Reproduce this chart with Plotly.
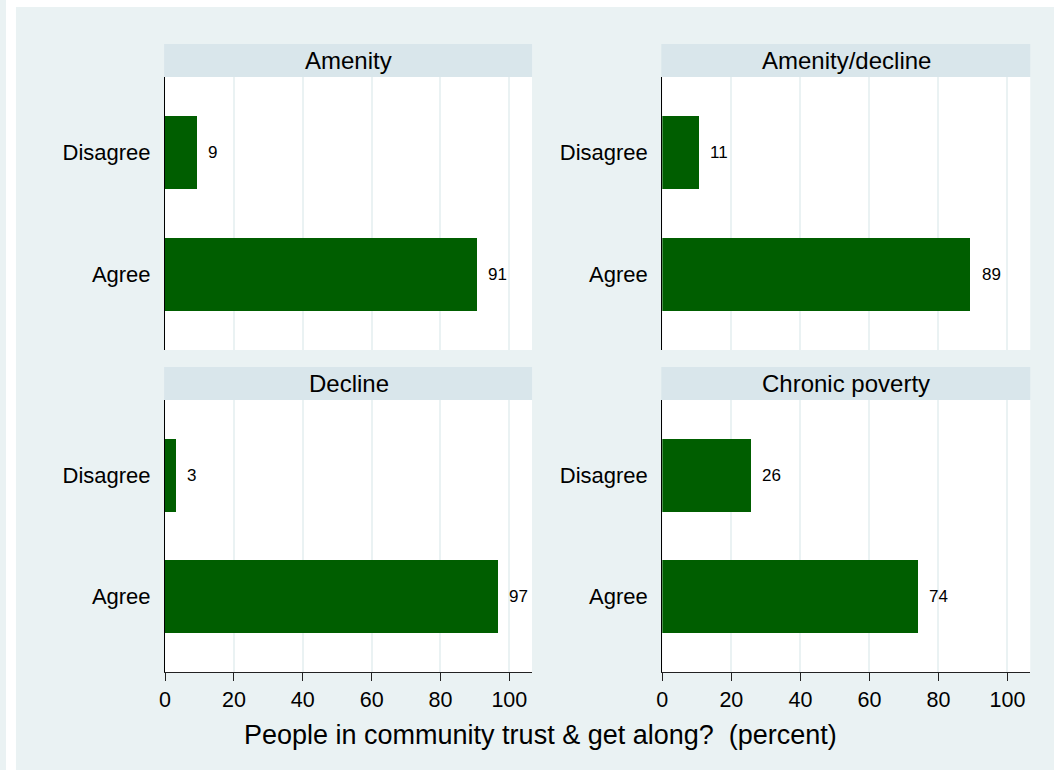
import plotly.graph_objects as go

# panel names and percentages
panels = ["Amenity", "Amenity/decline", "Decline", "Chronic poverty"]
categories = ["Agree", "Disagree"]
agree = [90.6, 89.3, 96.8, 74.2]
disagree = [9.4, 10.7, 3.2, 25.8]
x_ticks = [0, 20, 40, 60, 80, 100]
x_title = "People in community trust & get along?  (percent)"

# figure runs a little past the page edges so the background reaches them
W, H = 1054 + 20, 770 + 20
BG = "#eaf2f3"
STRIP = "#d9e6eb"
BAR = "#005e00"
FONT = "Liberation Sans, Arial, sans-serif"


def px_x(x):
    return x / W


def px_y(y):
    return 1 - y / H


# page-pixel boxes of the plot regions
col_x = [(160, 529), (660, 1030)]
row_y = [(77, 350), (400, 672)]
strip_h = 33

fig = go.Figure()
layout = {}

for i, name in enumerate(panels):
    r, c = divmod(i, 2)
    xa = "x" if i == 0 else f"x{i + 1}"
    ya = "y" if i == 0 else f"y{i + 1}"
    vals = [agree[i], disagree[i]]

    fig.add_trace(go.Bar(
        x=vals, y=categories, orientation="h", width=0.6,
        marker=dict(color=BAR, line=dict(width=0)),
        xaxis=xa, yaxis=ya, hoverinfo="skip", showlegend=False,
    ))
    for cat, v in zip(categories, vals):
        fig.add_annotation(x=v, y=cat, xref=xa, yref=ya, text=f"{v:.0f}",
                           showarrow=False, xanchor="left", xshift=9,
                           font=dict(size=17, color="black"))

    x0, x1 = col_x[c]
    y0, y1 = row_y[r]
    bottom = r == 1
    layout["xaxis" if i == 0 else f"xaxis{i + 1}"] = dict(
        domain=[px_x(x0), px_x(x1)], anchor=ya, range=[0, 106.6],
        tickvals=x_ticks, showgrid=True, gridcolor=BG, gridwidth=1.5,
        zeroline=False, showline=bottom, linecolor="#222", linewidth=1,
        ticks="outside" if bottom else "", ticklen=8, tickcolor="#222",
        showticklabels=bottom, tickfont=dict(size=21.5, color="black"),
    )
    layout["yaxis" if i == 0 else f"yaxis{i + 1}"] = dict(
        domain=[px_y(y1), px_y(y0)], anchor=xa, range=[-0.62, 1.62],
        type="category", categoryorder="array", categoryarray=categories,
        showgrid=False, zeroline=False, showline=True, linecolor="black",
        linewidth=1.2, ticks="", ticklabelstandoff=9,
        tickfont=dict(size=22, color="black"),
    )

    # panel header strip
    fig.add_shape(type="rect", xref="paper", yref="paper",
                  x0=px_x(x0 - 1), x1=px_x(x1), y0=px_y(y0), y1=px_y(y0 - strip_h),
                  fillcolor=STRIP, line=dict(width=0), layer="below")
    fig.add_annotation(x=px_x((x0 + x1) / 2), y=px_y(y0 - strip_h / 2),
                       xref="paper", yref="paper", text=name, showarrow=False,
                       xanchor="center", yanchor="middle",
                       font=dict(size=24, color="black"))

# white edges at top and left of the graph region
fig.add_shape(type="rect", xref="paper", yref="paper", x0=0, x1=px_x(10), y0=0, y1=1,
              fillcolor="white", line=dict(width=0), layer="below")
fig.add_shape(type="rect", xref="paper", yref="paper", x0=0, x1=1, y0=px_y(7), y1=1,
              fillcolor="white", line=dict(width=0), layer="below")

fig.add_annotation(x=px_x(538), y=px_y(735), xref="paper", yref="paper",
                   text=x_title, showarrow=False, xanchor="center", yanchor="middle",
                   font=dict(size=27, color="black"))

fig.update_layout(
    **layout,
    width=W, height=H,
    margin=dict(l=0, r=0, t=0, b=0),
    paper_bgcolor=BG, plot_bgcolor="white",
    font=dict(family=FONT, color="black"),
    bargap=0,
)

pin = ("document.body.style.margin='0';"
       "document.body.style.overflow='hidden';"
       "document.body.style.background='%s';"
       "var d=document.getElementById('{plot_id}');"
       "d.style.position='fixed';d.style.left='0px';d.style.top='0px';" % BG)
fig.write_html("out.html", config={"displayModeBar": False}, post_script=pin)
